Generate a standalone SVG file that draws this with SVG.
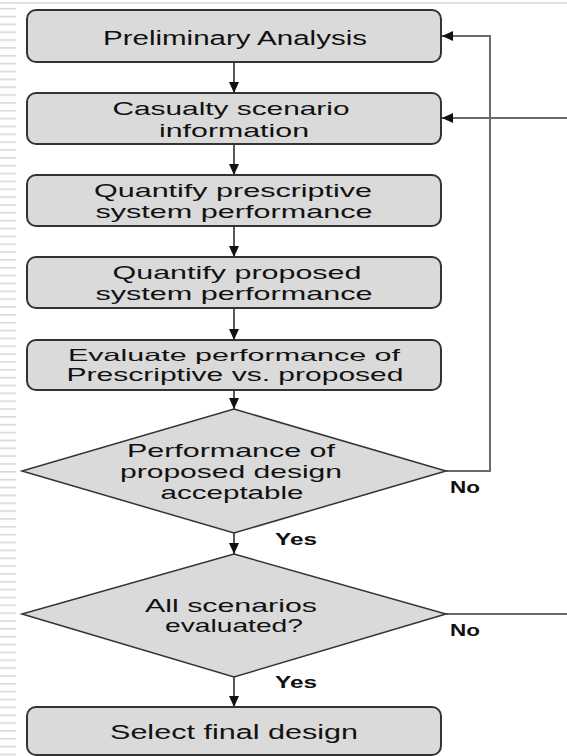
<svg xmlns="http://www.w3.org/2000/svg" width="567" height="756" viewBox="0 0 567 756">
  <defs>
    <marker id="arrow" markerUnits="userSpaceOnUse" markerWidth="12" markerHeight="12" refX="11" refY="6" orient="auto">
      <path d="M0,1 L11,6 L0,11 Z" fill="#111"/>
    </marker>
    <pattern id="stripes" patternUnits="userSpaceOnUse" width="16" height="7.85">
      <rect x="0" y="0" width="16" height="1.6" fill="#d8d8d8"/>
    </pattern>
  </defs>
  <style>
    .box { fill: #dadada; stroke: #333; stroke-width: 2; }
    .dia { fill: #dadada; stroke: #333; stroke-width: 1.5; }
    .lbl { font-family: "Liberation Sans", Arial, sans-serif; font-size: 18.5px; fill: #111; text-anchor: middle; }
    .sm { font-family: "Liberation Sans", Arial, sans-serif; font-size: 17px; font-weight: bold; fill: #111; }
    .flow { fill: none; stroke: #222; stroke-width: 1.5; }
    .loop { fill: none; stroke: #6a6a6a; stroke-width: 2; }
  </style>

  <rect width="567" height="756" fill="#ffffff"/>
  <!-- page decoration: striped left margin and top rule -->
  <rect x="0" y="6" width="16" height="750" fill="url(#stripes)"/>
  <line x1="0" y1="3" x2="567" y2="3" stroke="#e2e2e2" stroke-width="2"/>

  <g id="connectors">
    <line class="flow" x1="234" y1="62" x2="234" y2="93" marker-end="url(#arrow)"/>
    <line class="flow" x1="234" y1="144" x2="234" y2="175" marker-end="url(#arrow)"/>
    <line class="flow" x1="234" y1="226" x2="234" y2="257" marker-end="url(#arrow)"/>
    <line class="flow" x1="234" y1="308" x2="234" y2="340" marker-end="url(#arrow)"/>
    <line class="flow" x1="234" y1="390" x2="234" y2="409" marker-end="url(#arrow)"/>
    <line class="flow" x1="234" y1="533" x2="234" y2="554" marker-end="url(#arrow)"/>
    <line class="flow" x1="234" y1="677" x2="234" y2="707" marker-end="url(#arrow)"/>
    <polyline class="loop" points="446,471 490,471 490,36 442,36" marker-end="url(#arrow)"/>
    <line class="loop" x1="567" y1="118" x2="442" y2="118" marker-end="url(#arrow)"/>
    <line class="loop" x1="446" y1="614" x2="567" y2="614"/>
    <text class="sm" x="450" y="493" textLength="30" lengthAdjust="spacingAndGlyphs">No</text>
    <text class="sm" x="450" y="636" textLength="30" lengthAdjust="spacingAndGlyphs">No</text>
    <text class="sm" x="275" y="545" textLength="42" lengthAdjust="spacingAndGlyphs">Yes</text>
    <text class="sm" x="275" y="688" textLength="42" lengthAdjust="spacingAndGlyphs">Yes</text>
  </g>

  <g id="preliminary-analysis">
    <rect class="box" x="27" y="10" width="414" height="52" rx="9"/>
    <text class="lbl" x="235" y="45" textLength="264" lengthAdjust="spacingAndGlyphs" style="font-size:20px">Preliminary Analysis</text>
  </g>

  <g id="casualty-scenario">
    <rect class="box" x="27" y="93" width="414" height="51" rx="9"/>
    <text class="lbl" x="231" y="115" textLength="237" lengthAdjust="spacingAndGlyphs">Casualty scenario</text>
    <text class="lbl" x="234" y="137" textLength="150" lengthAdjust="spacingAndGlyphs">information</text>
  </g>

  <g id="quantify-prescriptive">
    <rect class="box" x="27" y="175" width="414" height="51" rx="9"/>
    <text class="lbl" x="233" y="197" textLength="278" lengthAdjust="spacingAndGlyphs">Quantify prescriptive</text>
    <text class="lbl" x="234" y="218" textLength="277" lengthAdjust="spacingAndGlyphs">system performance</text>
  </g>

  <g id="quantify-proposed">
    <rect class="box" x="27" y="257" width="414" height="51" rx="9"/>
    <text class="lbl" x="237" y="279" textLength="249" lengthAdjust="spacingAndGlyphs">Quantify proposed</text>
    <text class="lbl" x="234" y="300" textLength="277" lengthAdjust="spacingAndGlyphs">system performance</text>
  </g>

  <g id="evaluate-performance">
    <rect class="box" x="27" y="340" width="414" height="50" rx="9"/>
    <text class="lbl" x="234" y="361" textLength="332" lengthAdjust="spacingAndGlyphs" style="font-size:16.5px">Evaluate performance of</text>
    <text class="lbl" x="235" y="381" textLength="337" lengthAdjust="spacingAndGlyphs">Prescriptive vs. proposed</text>
  </g>

  <g id="acceptable-decision">
    <polygon class="dia" points="234,409 446,471 234,533 22,471"/>
    <text class="lbl" x="231" y="457" textLength="208" lengthAdjust="spacingAndGlyphs">Performance of</text>
    <text class="lbl" x="231" y="478" textLength="222" lengthAdjust="spacingAndGlyphs">proposed design</text>
    <text class="lbl" x="232" y="499" textLength="143" lengthAdjust="spacingAndGlyphs">acceptable</text>
  </g>

  <g id="all-scenarios-decision">
    <polygon class="dia" points="234,554 446,614 234,677 22,614"/>
    <text class="lbl" x="231" y="612" textLength="172" lengthAdjust="spacingAndGlyphs">All scenarios</text>
    <text class="lbl" x="234" y="632" textLength="138" lengthAdjust="spacingAndGlyphs">evaluated?</text>
  </g>

  <g id="select-final-design">
    <rect class="box" x="27" y="707" width="414" height="48" rx="9"/>
    <text class="lbl" x="234" y="739" textLength="248" lengthAdjust="spacingAndGlyphs" style="font-size:20px">Select final design</text>
  </g>
</svg>
